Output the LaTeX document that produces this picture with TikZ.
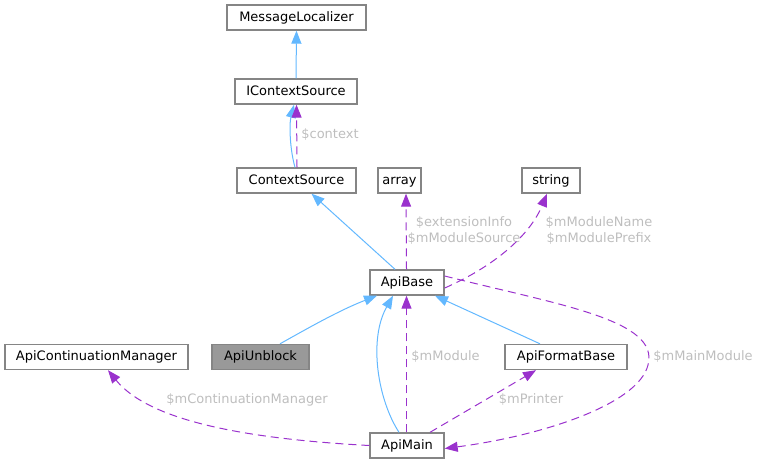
\documentclass[tikz,border=0pt]{standalone}
\usepackage{fontspec}
\setmainfont{DejaVu Sans}
\usetikzlibrary{arrows.meta}
\definecolor{nodeborder}{HTML}{858585}
\definecolor{inhblue}{HTML}{63B8FF}
\definecolor{usepurple}{HTML}{9A32CD}
\definecolor{lblgray}{HTML}{BEBEBE}
\definecolor{unblockfill}{HTML}{999999}
\tikzset{
  cls/.style={draw=nodeborder, line width=1.4pt, fill=white, inner sep=0pt, minimum height=25pt,
    text height=9.5pt, text depth=2.5pt,
    font=\fontsize{13}{16}\selectfont, text=black},
  inh/.style={draw=inhblue, line width=1pt, -{Triangle[length=13pt,width=10pt]}, fill=none},
  usage/.style={draw=usepurple, line width=1pt, dash pattern=on 8pt off 5pt,
    -{Triangle[length=13pt,width=10pt,fill=usepurple]}},
  lbl/.style={text=lblgray, font=\fontsize{13}{16}\selectfont, align=center, inner sep=0pt}
}
\begin{document}
\begin{tikzpicture}[x=1pt,y=-1pt]
\useasboundingbox (0,0) rectangle (759,464);
% nodes
\node[cls, minimum width=139pt] (ML) at (296.5,17.5) {MessageLocalizer};
\node[cls, minimum width=122pt] (ICS) at (296,91.5) {IContextSource};
\node[cls, minimum width=119pt] (CS) at (296.5,180.5) {ContextSource};
\node[cls, minimum width=43pt] (AR) at (399.5,180.5) {array};
\node[cls, minimum width=58pt] (ST) at (551,180.5) {string};
\node[cls, minimum width=74pt] (AB) at (407,282.5) {ApiBase};
\node[cls, minimum width=183pt] (ACM) at (96.5,357) {ApiContinuationManager};
\node[cls, minimum width=97pt, fill=unblockfill] (AU) at (260.5,357) {ApiUnblock};
\node[cls, minimum width=122pt] (AFB) at (566,357) {ApiFormatBase};
\node[cls, minimum width=74pt] (AM) at (407,445.5) {ApiMain};
% edges
\draw[inh] (ICS.north) -- (ML.south);
\draw[inh] ([xshift=-1.5pt]CS.north) .. controls (290,150) and (289,125) .. ([xshift=-2pt]ICS.south);
\draw[usage] ([xshift=0.5pt]CS.north) -- ([xshift=0.5pt]ICS.south);
\node[lbl] (lctx) at (330,135) {\$context};
\draw[inh] ([xshift=-12pt]AB.north) -- ([xshift=15pt]CS.south);
\draw[usage] ([xshift=-0.5pt]AB.north) -- ([xshift=6.5pt]AR.south);
\node[lbl] (lext) at (464,231) {\$extensionInfo\\\$mModuleSource};
\draw[usage] ([yshift=-5.5pt]AB.east) .. controls (495,266) and (530,235) .. ([xshift=-4pt]ST.south);
\node[lbl] (lmn) at (599,231) {\$mModuleName\\\$mModulePrefix};
\draw[inh] ([xshift=19.5pt]AU.north) .. controls (310,327) and (340,310) .. ([xshift=-30pt]AB.south);
\draw[inh] ([xshift=-8pt]AM.north) .. controls (378,400) and (368,340) .. ([xshift=-14pt]AB.south);
\draw[usage] ([xshift=-0.5pt]AM.north) -- ([xshift=-0.5pt]AB.south);
\node[lbl] (lmod) at (445.5,357) {\$mModule};
\draw[inh] ([xshift=-26pt]AFB.north) -- ([xshift=28pt]AB.south);
\draw[usage] ([xshift=23pt]AM.north) -- ([xshift=-30pt]AFB.south);
\node[lbl] (lpr) at (531,400) {\$mPrinter};
\draw[usage] (AM.west) .. controls (250,439) and (150,422) .. ([xshift=11.5pt]ACM.south);
\node[lbl] (lcm) at (247,400) {\$mContinuationManager};
\draw[usage] ([yshift=6.5pt]AB.east) .. controls (560,305) and (660,320) .. (648,365) .. controls (638,405) and (540,436) .. ([yshift=-3pt]AM.east);
\node[lbl] (lmm) at (703,357) {\$mMainModule};
\end{tikzpicture}
\end{document}
